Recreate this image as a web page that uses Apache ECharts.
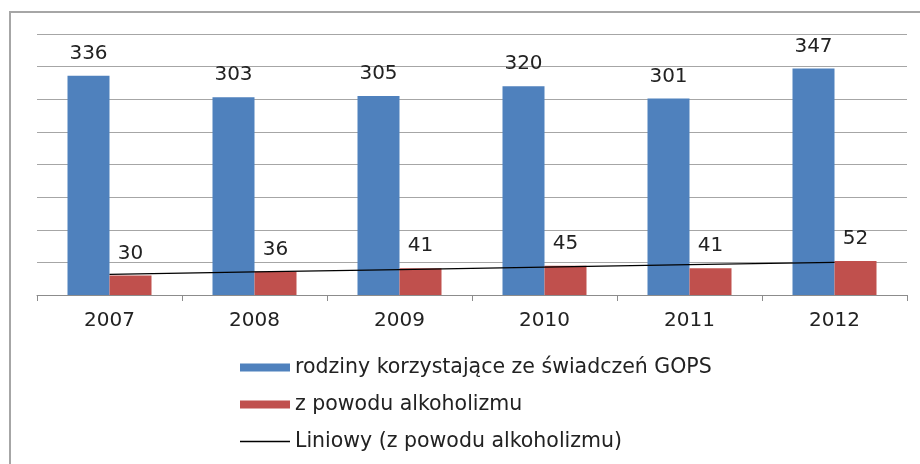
<!DOCTYPE html>
<html>
<head>
<meta charset="utf-8">
<script src="https://cdn.jsdelivr.net/npm/echarts@6/dist/echarts.min.js"></script>
<style>
  html, body { margin: 0; padding: 0; background: #fff; }
  #chart { width: 920px; height: 464px; }
</style>
</head>
<body>
<div id="chart"></div>
<script>
var years = ['2007', '2008', '2009', '2010', '2011', '2012'];
var rodziny = [336, 303, 305, 320, 301, 347];
var alkoholizm = [30, 36, 41, 45, 41, 52];
// linia trendu
var trend = [31.6, 35.3, 39.0, 42.7, 46.4, 50.1];

var FONT = 'DejaVu Sans';
var chart = echarts.init(document.getElementById('chart'));

chart.setOption({
    animation: false,
    backgroundColor: '#fff',
    textStyle: { fontFamily: FONT },
    graphic: [{
        type: 'rect',
        shape: { x: 10, y: 12, width: 940, height: 480 },
        style: { fill: 'none', stroke: '#a6a6a6', lineWidth: 2 },
        z: -1
    }],
    grid: { left: 37, right: 13, top: 34, bottom: 169 },
    legend: {
        orient: 'vertical',
        left: 240,
        top: 357,
        padding: 0,
        itemWidth: 50,
        itemHeight: 8,
        itemGap: 16,
        textStyle: { fontFamily: FONT, fontSize: 20.5, color: '#222' },
        data: [
            { name: 'rodziny korzystające ze świadczeń GOPS', icon: 'rect' },
            { name: 'z powodu alkoholizmu', icon: 'rect' },
            {
                name: 'Liniowy (z powodu alkoholizmu)',
                icon: 'path://M0,0L50,0L50,1.5L0,1.5Z',
                itemStyle: { color: '#000' }
            }
        ]
    },
    xAxis: {
        type: 'category',
        data: years,
        axisLine: { lineStyle: { color: '#8c8c8c', width: 1 } },
        axisTick: { show: true, length: 6, lineStyle: { color: '#8c8c8c' } },
        axisLabel: { fontFamily: FONT, fontSize: 20, color: '#222', margin: 16 }
    },
    yAxis: {
        type: 'value',
        min: 0,
        max: 400,
        interval: 50,
        axisLabel: { show: false },
        axisLine: { show: false },
        axisTick: { show: false },
        splitLine: { lineStyle: { color: '#a6a6a6', width: 1 } }
    },
    series: [
        {
            name: 'rodziny korzystające ze świadczeń GOPS',
            type: 'bar',
            data: rodziny,
            barWidth: 42,
            barGap: '0%',
            itemStyle: { color: '#4f81bd' },
            label: { show: true, position: 'top', distance: 12, fontFamily: FONT, fontSize: 20, color: '#222' }
        },
        {
            name: 'z powodu alkoholizmu',
            type: 'bar',
            data: alkoholizm,
            barWidth: 42,
            barGap: '0%',
            itemStyle: { color: '#c0504d' },
            label: { show: true, position: 'top', distance: 12, fontFamily: FONT, fontSize: 20, color: '#222' }
        },
        {
            name: 'Liniowy (z powodu alkoholizmu)',
            type: 'line',
            data: trend,
            symbol: 'none',
            z: 5,
            lineStyle: { color: '#000', width: 1.2 },
            itemStyle: { color: '#000' }
        }
    ]
});

window.addEventListener('resize', function () {
    chart.resize();
});
</script>
</body>
</html>
